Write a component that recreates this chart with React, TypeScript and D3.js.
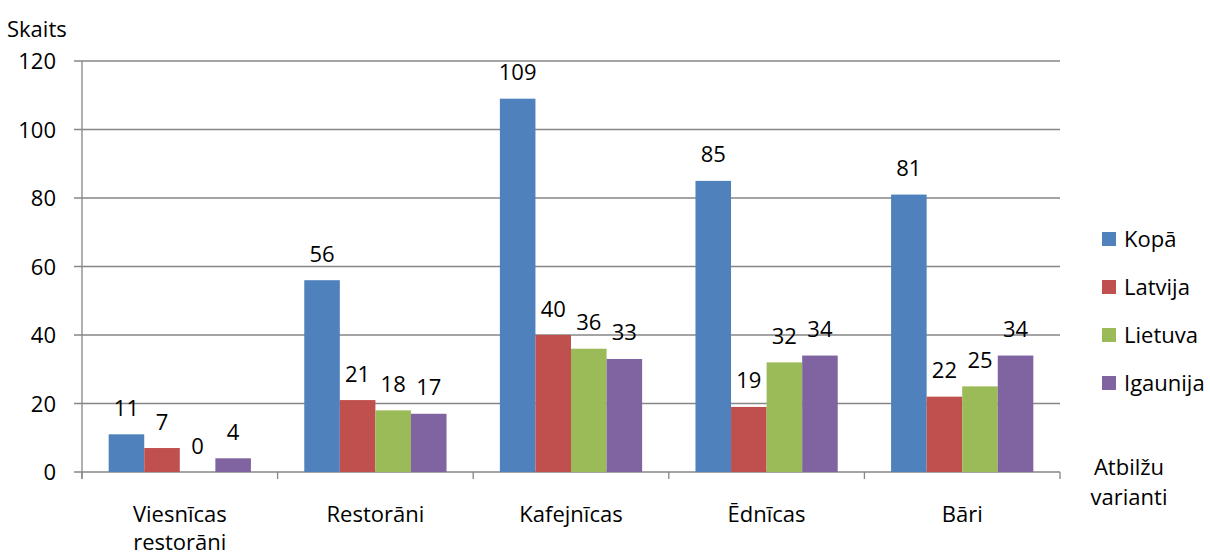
import React from "react";
import * as d3 from "d3";

const categories: string[][] = [["Viesnīcas", "restorāni"], ["Restorāni"], ["Kafejnīcas"], ["Ēdnīcas"], ["Bāri"]];
const seriesNames = ["Kopā", "Latvija", "Lietuva", "Igaunija"];
const seriesColors = ["#4F81BD", "#C0504D", "#9BBB59", "#8064A2"];
const kopa = [11, 56, 109, 85, 81];
const latvija = [7, 21, 40, 19, 22];
const lietuva = [0, 18, 36, 32, 25];
const igaunija = [4, 17, 33, 34, 34];
const yTicks = [0, 20, 40, 60, 80, 100, 120];

const W = 1210, H = 557;
const left = 82, right = 1060, top = 61, bottom = 472;
const FONT = "'Open Sans', sans-serif";
const FS = 22;

export default function App() {
  const series = [kopa, latvija, lietuva, igaunija];
  const x = d3.scaleBand<number>().domain(d3.range(categories.length)).range([left, right]).padding(0);
  const inner = d3.scaleBand<number>().domain(d3.range(4)).range([0, x.bandwidth()]).paddingInner(0).paddingOuter(0.75);
  const y = d3.scaleLinear().domain([0, 120]).range([bottom, top]);
  const grid = "#868686";
  const boundaries = d3.range(categories.length + 1).map((i) => left + i * x.bandwidth());
  return (
    <svg width={W} height={H} style={{ position: "absolute", left: 0, top: 0, background: "#fff" }} fontFamily={FONT}>
      {yTicks.map((t) => (
        <g key={t}>
          <line x1={left - 8} x2={right} y1={y(t)} y2={y(t)} stroke={grid} strokeWidth={1.3} />
          <text x={left - 26} y={y(t) + 8} textAnchor="end" fontSize={FS} fill="#000">{t}</text>
        </g>
      ))}
      <line x1={left} x2={left} y1={top} y2={bottom + 7} stroke={grid} strokeWidth={1.3} />
      {boundaries.map((b, i) => (
        <line key={i} x1={b} x2={b} y1={bottom} y2={bottom + 7} stroke={grid} strokeWidth={1.3} />
      ))}
      {series.map((vals, s) =>
        vals.map((v, c) => {
          const bx = (x(c) as number) + (inner(s) as number);
          return (
            <g key={`${s}-${c}`}>
              {v > 0 && <rect x={bx} y={y(v)} width={inner.bandwidth()} height={bottom - y(v)} fill={seriesColors[s]} />}
              <text x={bx + inner.bandwidth() / 2} y={y(v) - 18.5} textAnchor="middle" fontSize={FS} fill="#000">{v}</text>
            </g>
          );
        })
      )}
      {categories.map((lines, c) => (
        <text key={c} x={(x(c) as number) + x.bandwidth() / 2} y={522} textAnchor="middle" fontSize={FS} fill="#000">
          {lines.map((l, i) => (
            <tspan key={i} x={(x(c) as number) + x.bandwidth() / 2} dy={i === 0 ? 0 : 28}>{l}</tspan>
          ))}
        </text>
      ))}
      <text x={7} y={37} fontSize={FS} fill="#000">Skaits</text>
      <text x={1129} y={475} textAnchor="middle" fontSize={FS} fill="#000">
        <tspan x={1129} dy={0}>Atbilžu</tspan>
        <tspan x={1129} dy={30}>varianti</tspan>
      </text>
      {seriesNames.map((n, i) => (
        <g key={n} transform={`translate(1102, ${239 + i * 48})`}>
          <rect x={0} y={-7} width={14} height={14} fill={seriesColors[i]} />
          <text x={22} y={8} fontSize={FS} fill="#000">{n}</text>
        </g>
      ))}
    </svg>
  );
}
